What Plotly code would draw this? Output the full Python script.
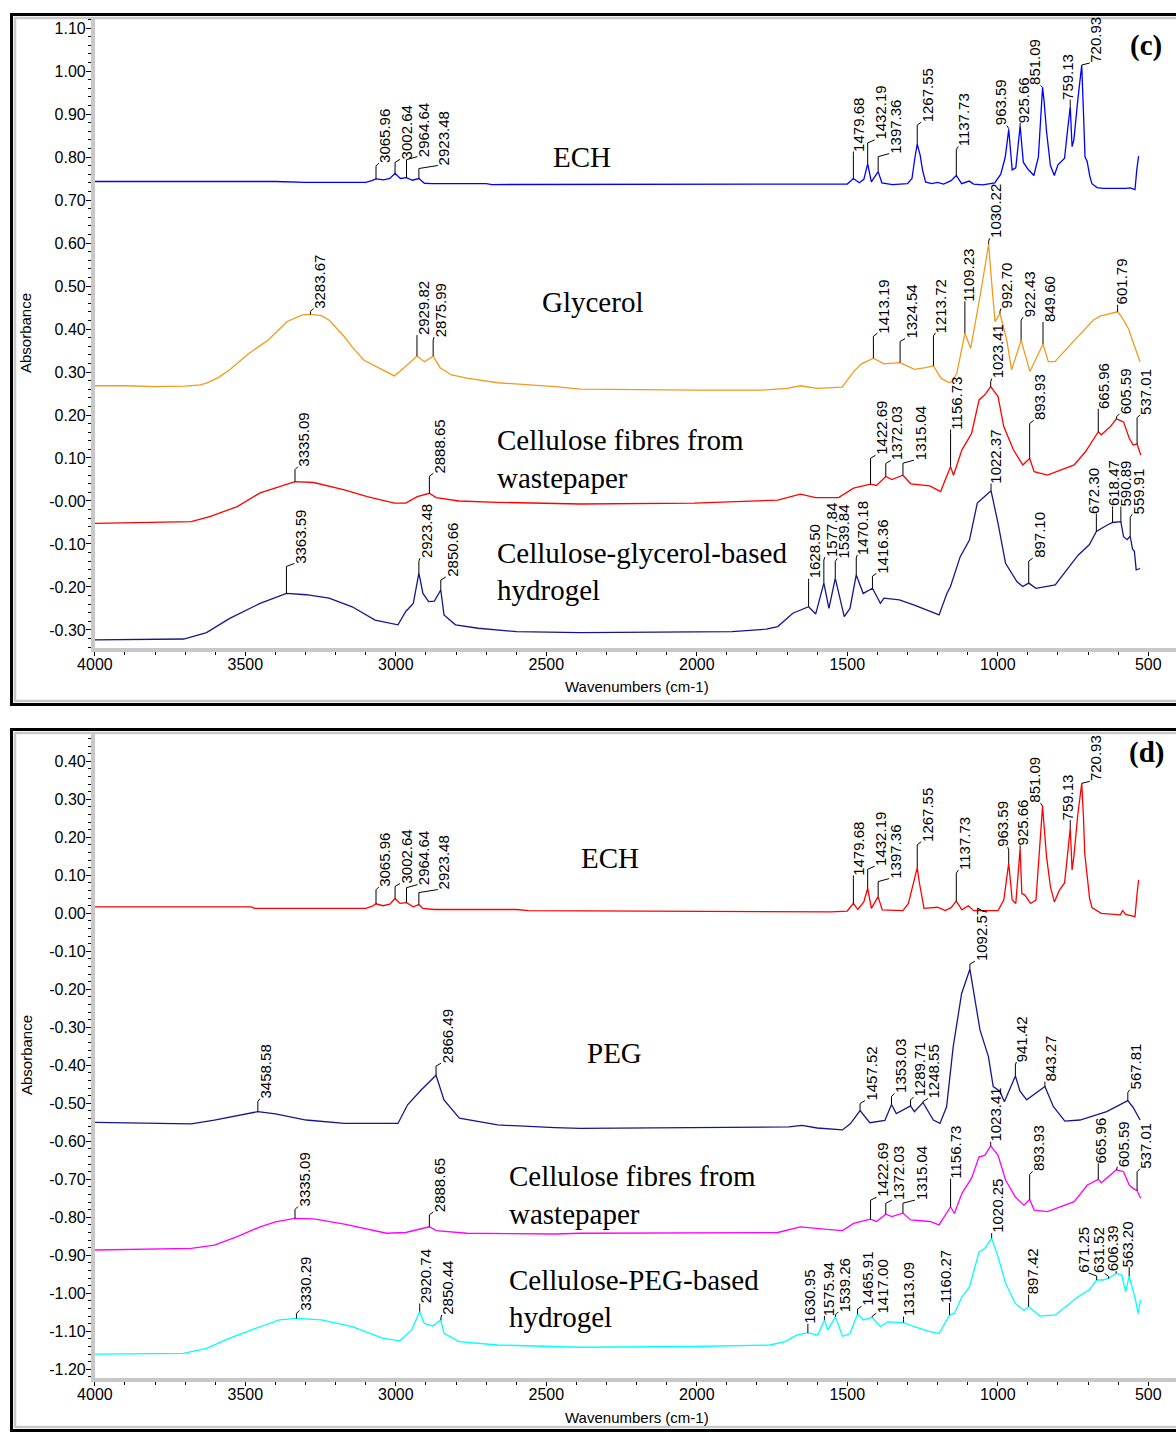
import numpy as np
import plotly.graph_objects as go

W, H = 1176, 1433

# ======================= DATA : panel (c) =======================
ECH_C_WN = [4000, 3800, 3600, 3400, 3300, 3200, 3100, 3080, 3065.96, 3040, 3020, 3002.64, 2985, 2964.64,
            2945, 2923.48, 2905, 2880, 2700, 2680, 2300, 1900, 1560, 1500, 1479.68, 1460, 1445, 1432.19,
            1420, 1397.36, 1385, 1350, 1300, 1285, 1275, 1267.55, 1258, 1250, 1240, 1220, 1200, 1180,
            1155, 1137.73, 1120, 1095, 1080, 1050, 1010, 990, 975, 963.59, 952, 940, 925.66, 915, 900,
            880, 865, 851.09, 846, 838, 825, 812, 800, 778, 770, 759.13, 753, 747, 734, 720.93, 715, 710,
            703, 694, 687, 670, 650, 600, 575, 560, 549, 544, 538, 532]
ECH_C_ABS = [0.743, 0.743, 0.743, 0.743, 0.741, 0.741, 0.741, 0.745, 0.749, 0.747, 0.750, 0.762, 0.750, 0.752,
             0.746, 0.750, 0.739, 0.738, 0.738, 0.736, 0.736, 0.736, 0.736, 0.737, 0.750, 0.740, 0.748, 0.784,
             0.742, 0.766, 0.740, 0.736, 0.738, 0.750, 0.800, 0.830, 0.805, 0.770, 0.742, 0.738, 0.741, 0.737,
             0.745, 0.757, 0.738, 0.744, 0.737, 0.735, 0.740, 0.760, 0.800, 0.864, 0.770, 0.775, 0.872, 0.788, 0.772,
             0.757, 0.800, 0.962, 0.930, 0.860, 0.780, 0.757, 0.782, 0.797, 0.850, 0.917, 0.824, 0.840, 0.933, 1.014, 0.900, 0.800,
             0.790, 0.755, 0.738, 0.729, 0.727, 0.726, 0.727, 0.728, 0.725, 0.724, 0.770, 0.802]

GLY_WN = [4000, 3900, 3800, 3700, 3650, 3629, 3590, 3552, 3489, 3425, 3362, 3311, 3283.67, 3247, 3222, 3196, 3171,
          3146, 3107, 3044, 3005, 2980, 2929.82, 2905, 2875.99, 2853, 2815, 2764, 2662, 2471, 2388, 2000, 1782,
          1700, 1656, 1600, 1517, 1479, 1453, 1413.19, 1378, 1324.54, 1277, 1240, 1213.72, 1188, 1163, 1153,
          1136, 1109.23, 1090, 1059, 1030.22, 1020, 1009, 992.70, 970, 954, 922.43, 893, 849.60, 832, 810,
          750, 700, 682, 660, 630, 601.79, 590, 577, 565, 549, 535, 527]
GLY_ABS = [0.268, 0.268, 0.266, 0.267, 0.270, 0.274, 0.287, 0.305, 0.343, 0.374, 0.417, 0.433, 0.434, 0.431, 0.421, 0.400, 0.382,
           0.359, 0.328, 0.305, 0.291, 0.305, 0.337, 0.324, 0.337, 0.310, 0.293, 0.286, 0.275, 0.266, 0.260, 0.258, 0.258,
           0.262, 0.268, 0.262, 0.265, 0.301, 0.319, 0.332, 0.319, 0.322, 0.306, 0.310, 0.314, 0.285, 0.276, 0.277,
           0.297, 0.390, 0.355, 0.475, 0.597, 0.506, 0.417, 0.436, 0.374, 0.305, 0.374, 0.301, 0.365, 0.324, 0.324,
           0.370, 0.408, 0.421, 0.430, 0.435, 0.440, 0.430, 0.413, 0.400, 0.367, 0.340, 0.324]

CELL_C_WN = [4000, 3800, 3680, 3616, 3527, 3451, 3374, 3335.09, 3273, 3171, 3095, 3005, 2967, 2929, 2888.65,
             2866, 2790, 2662, 2388, 2009, 1731, 1656, 1605, 1529, 1479, 1422.69, 1403, 1372.03, 1352, 1315.04,
             1289, 1226, 1201, 1190, 1156.73, 1147, 1119, 1087, 1062, 1043, 1023.41, 999, 980, 948, 917, 893.93,
             879, 835, 746, 708, 665.96, 656, 626, 605.59, 582, 563, 550, 537.01, 525]
CELL_C_ABS = [-0.052, -0.050, -0.048, -0.036, -0.013, 0.019, 0.037, 0.045, 0.043, 0.026, 0.010, -0.005, -0.005, 0.010, 0.018,
              0.008, 0.000, -0.003, -0.007, -0.005, 0.002, 0.016, 0.008, 0.008, 0.030, 0.039, 0.036, 0.057, 0.050, 0.060,
              0.040, 0.035, 0.026, 0.022, 0.080, 0.060, 0.119, 0.157, 0.235, 0.247, 0.266, 0.243, 0.173, 0.119, 0.084, 0.099,
              0.068, 0.060, 0.084, 0.115, 0.161, 0.154, 0.173, 0.191, 0.184, 0.146, 0.130, 0.133, 0.107]

HYD_C_WN = [4000, 3800, 3705, 3629, 3552, 3451, 3363.59, 3298, 3222, 3145, 3069, 2993, 2967, 2942, 2923.48,
            2910, 2891, 2872, 2850.66, 2840, 2802, 2726, 2599, 2388, 1883, 1769, 1731, 1681, 1628.50, 1605,
            1577.84, 1561, 1539.84, 1510, 1491, 1470.18, 1447, 1416.36, 1390, 1378, 1327, 1277, 1226, 1195,
            1169, 1157, 1125, 1094, 1068, 1022.37, 999, 974, 936, 917, 897.10, 873, 809, 733, 696, 672.30, 639,
            618.47, 590.89, 582, 570, 559.91, 552, 546, 540, 527]
HYD_C_ABS = [-0.323, -0.322, -0.321, -0.306, -0.273, -0.238, -0.215, -0.218, -0.226, -0.246, -0.277, -0.288, -0.257, -0.238, -0.168,
             -0.215, -0.234, -0.233, -0.207, -0.265, -0.288, -0.296, -0.304, -0.306, -0.304, -0.298, -0.292, -0.261, -0.246, -0.263,
             -0.191, -0.250, -0.180, -0.269, -0.250, -0.172, -0.215, -0.203, -0.238, -0.226, -0.230, -0.242, -0.257, -0.265,
             -0.215, -0.199, -0.130, -0.091, -0.005, 0.024, -0.052, -0.145, -0.188, -0.199, -0.191, -0.203, -0.195, -0.126, -0.102, -0.071, -0.057,
             -0.050, -0.048, -0.083, -0.090, -0.082, -0.112, -0.117, -0.160, -0.157]

# ======================= DATA : panel (d) =======================
ECH_D_WN = [4000, 3480, 3470, 3100, 3080, 3065.96, 3043, 3020, 3002.64, 2986, 2964.64, 2942, 2923.48, 2910, 2872,
            2599, 2560, 1554, 1500, 1479.68, 1465, 1445, 1432.19, 1420, 1397.36, 1384, 1315, 1297, 1280, 1267.55,
            1261, 1245, 1200, 1175, 1155, 1137.73, 1119, 1098, 1080, 999, 980, 963.59, 952, 940, 925.66, 920, 910,
            891, 873, 862, 851.09, 846, 838, 825, 812, 795, 778, 770, 759.13, 753, 747, 734, 720.93, 715, 711, 703,
            695, 687, 656, 593, 585, 575, 544, 538, 532]
ECH_D_ABS = [0.017, 0.017, 0.013, 0.013, 0.018, 0.025, 0.020, 0.024, 0.039, 0.026, 0.028, 0.017, 0.023, 0.013, 0.010,
             0.010, 0.007, 0.004, 0.006, 0.026, 0.010, 0.030, 0.066, 0.013, 0.044, 0.009, 0.007, 0.026, 0.080, 0.120,
             0.083, 0.013, 0.016, 0.007, 0.015, 0.032, 0.009, 0.020, 0.007, 0.007, 0.035, 0.132, 0.035, 0.026, 0.171, 0.052, 0.048,
             0.026, 0.035, 0.150, 0.282, 0.230, 0.150, 0.070, 0.030, 0.061, 0.080, 0.140, 0.224, 0.114, 0.150, 0.260, 0.342, 0.250, 0.158, 0.100,
             0.040, 0.015, 0.000, -0.004, 0.007, -0.003, -0.009, 0.044, 0.088]

PEG_WN = [4000, 3680, 3603, 3540, 3458.58, 3400, 3298, 3171, 2993, 2961, 2916, 2866.49, 2840, 2789, 2662, 2471,
          2388, 1694, 1650, 1600, 1516, 1490, 1457.52, 1425, 1375, 1353.03, 1337, 1289.71, 1277, 1248.55, 1214,
          1192, 1170, 1148, 1120, 1092.57, 1081, 1059, 1031, 1015, 993, 978, 941.42, 926, 904, 882, 843.27, 815,
          777, 727, 638, 567.81, 550, 527]
PEG_ABS = [-0.550, -0.554, -0.544, -0.535, -0.522, -0.528, -0.544, -0.553, -0.553, -0.504, -0.465, -0.426, -0.491, -0.539, -0.557, -0.564,
           -0.566, -0.562, -0.558, -0.565, -0.570, -0.554, -0.519, -0.551, -0.545, -0.503, -0.527, -0.507, -0.522, -0.498, -0.544,
           -0.553, -0.509, -0.351, -0.211, -0.147, -0.202, -0.307, -0.377, -0.456, -0.468, -0.496, -0.428, -0.468, -0.491, -0.478, -0.456, -0.509,
           -0.547, -0.544, -0.522, -0.493, -0.511, -0.544]

CELL_D_WN = [4000, 3800, 3680, 3603, 3527, 3451, 3400, 3335.09, 3273, 3171, 3031, 2967, 2888.65, 2866, 2764, 2471,
             2388, 1731, 1656, 1567, 1516, 1479, 1422.69, 1403, 1372.03, 1352, 1315.04, 1289, 1226, 1195, 1156.73,
             1144, 1119, 1087, 1062, 1043, 1023.41, 999, 974, 942, 913, 893.93, 879, 835, 746, 702, 665.96, 656, 626,
             605.59, 582, 563, 550, 537.01, 525]
CELL_D_ABS = [-0.886, -0.884, -0.882, -0.873, -0.851, -0.825, -0.812, -0.803, -0.804, -0.818, -0.842, -0.840, -0.825, -0.835, -0.842, -0.844,
              -0.842, -0.840, -0.825, -0.832, -0.835, -0.816, -0.805, -0.811, -0.792, -0.798, -0.789, -0.807, -0.811, -0.820, -0.772,
              -0.790, -0.737, -0.697, -0.641, -0.637, -0.612, -0.637, -0.702, -0.746, -0.768, -0.753, -0.781, -0.785, -0.759, -0.715, -0.700, -0.709, -0.689,
              -0.675, -0.680, -0.715, -0.724, -0.730, -0.750]

HYD_D_WN = [4000, 3800, 3705, 3629, 3552, 3451, 3387, 3330.29, 3247, 3145, 3044, 2987, 2948, 2920.74, 2906, 2878,
            2850.44, 2840, 2790, 2662, 2471, 2388, 2009, 1757, 1706, 1669, 1630.95, 1598, 1575.94, 1565, 1539.26,
            1516, 1491, 1465.91, 1447, 1417.00, 1390, 1365, 1313.09, 1277, 1226, 1195, 1160.27, 1144, 1119, 1094,
            1062, 1043, 1020.25, 999, 974, 942, 913, 897.42, 860, 809, 733, 696, 671.25, 651, 631.52, 606.39, 588,
            575, 563.20, 550, 542, 534, 525]
HYD_D_ABS = [-1.160, -1.159, -1.158, -1.145, -1.118, -1.088, -1.070, -1.066, -1.070, -1.088, -1.118, -1.125, -1.097, -1.048, -1.079, -1.086,
             -1.070, -1.105, -1.127, -1.136, -1.139, -1.142, -1.140, -1.136, -1.127, -1.110, -1.104, -1.110, -1.070, -1.097, -1.062,
             -1.113, -1.106, -1.055, -1.070, -1.063, -1.088, -1.075, -1.077, -1.088, -1.101, -1.106, -1.057, -1.053, -1.009, -0.983,
             -0.891, -0.882, -0.855, -0.904, -0.974, -1.026, -1.045, -1.035, -1.060, -1.057, -1.009, -0.991, -0.965, -0.965, -0.961, -0.947, -0.952,
             -0.996, -0.955, -0.991, -1.018, -1.053, -1.018]

# ======================= peak labels (text) =======================
ECH_PEAKS = ["3065.96", "3002.64", "2964.64", "2923.48", "1479.68", "1432.19", "1397.36", "1267.55",
             "1137.73", "963.59", "925.66", "851.09", "759.13", "720.93"]
GLY_PEAKS = ["3283.67", "2929.82", "2875.99", "1413.19", "1324.54", "1213.72", "1109.23", "1030.22",
             "992.70", "922.43", "849.60", "601.79"]
CELL_PEAKS = ["3335.09", "2888.65", "1422.69", "1372.03", "1315.04", "1156.73", "1023.41", "893.93",
              "665.96", "605.59", "537.01"]
HYD_C_PEAKS = ["3363.59", "2923.48", "2850.66", "1628.50", "1577.84", "1539.84", "1470.18", "1416.36",
               "1022.37", "897.10", "672.30", "618.47", "590.89", "559.91"]
PEG_PEAKS = ["3458.58", "2866.49", "1457.52", "1353.03", "1289.71", "1248.55", "1092.57", "941.42",
             "843.27", "567.81"]
HYD_D_PEAKS = ["3330.29", "2920.74", "2850.44", "1630.95", "1575.94", "1539.26", "1465.91", "1417.00",
               "1313.09", "1160.27", "1020.25", "897.42", "671.25", "631.52", "606.39", "563.20"]

# axis ticks
X_TICKS = [4000, 3500, 3000, 2500, 2000, 1500, 1000, 500]
X_TICKTEXT = ["4000", "3500", "3000", "2500", "2000", "1500", "1000", "500"]
Y_TICKS_C = [1.10, 1.00, 0.90, 0.80, 0.70, 0.60, 0.50, 0.40, 0.30, 0.20, 0.10, 0.00, -0.10, -0.20, -0.30]
Y_TICKTEXT_C = ["1.10", "1.00", "0.90", "0.80", "0.70", "0.60", "0.50", "0.40", "0.30", "0.20", "0.10",
                "-0.00", "-0.10", "-0.20", "-0.30"]
Y_TICKS_D = [0.40, 0.30, 0.20, 0.10, 0.00, -0.10, -0.20, -0.30, -0.40, -0.50, -0.60, -0.70, -0.80, -0.90,
             -1.00, -1.10, -1.20]
Y_TICKTEXT_D = ["0.40", "0.30", "0.20", "0.10", "0.00", "-0.10", "-0.20", "-0.30", "-0.40", "-0.50", "-0.60",
                "-0.70", "-0.80", "-0.90", "-1.00", "-1.10", "-1.20"]

# ======================= layout geometry & label placement (pixels) =======================
PLOT_LEFT_PX = 94.9
X_RANGE = [4000, 407.7]
C_TOP_PX, C_BOT_PX = 18, 648
D_TOP_PX, D_BOT_PX = 733, 1378
Y_RANGE_C = [-0.3419, 1.1233]
Y_RANGE_D = [-1.2229, 0.4745]

# (stem length px, horizontal label offset px) per peak label
ECH_C_LBL = [(16, 9), (14, 11), (21, 17), (13, 25), (27, 5), (24, 13), (18, 17), (22, 10), (29, 8), (4, -8),
             (3, 3), (2, -8), (7, -3), (2, 14)]
GLY_LBL = [(6, 9), (21, 6), (19, 7), (25, 10), (24, 11), (33, 8), (32, 4), (6, 7), (5, 7), (23, 8), (22, 6), (7, 4)]
CELL_C_LBL = [(15, 9), (20, 10), (29, 11), (16, 11), (15, 17), (37, 6), (8, 7), (38, 10), (23, 5), (5, 9), (29, 9)]
HYD_C_LBL = [(30, 14), (15, 7), (13, 11), (28, 6), (26, 7), (20, 8), (20, 7), (15, 10), (7, 5), (25, 10), (18, -3),
             (16, 1), (15, 5), (22, 8)]
ECH_D_LBL = [(17, 9), (15, 11), (18, 17), (15, 25), (28, 5), (22, 13), (18, 17), (26, 10), (31, 8), (16, -7),
             (3, 2), (3, -8), (8, -3), (2, 14)]
PEG_LBL = [(13, 8), (12, 11), (10, 11), (11, 9), (9, 9), (4, 11), (8, 11), (14, 7), (5, 6), (11, 8)]
CELL_D_LBL = [(12, 9), (15, 10), (22, 12), (14, 12), (13, 18), (28, 5), (4, 5), (28, 9), (16, 2), (3, 7), (22, 9)]
HYD_D_LBL = [(8, 9), (8, 6), (5, 7), (9, 2), (4, 4), (5, 9), (8, 10), (4, 10), (6, 5), (12, -4), (5, 6), (12, 4),
             (7, -14), (5, -10), (2, -4), (9, -2)]

SANS = "Liberation Sans, Arial, sans-serif"
SERIF = "Liberation Serif, Times New Roman, serif"
NAVY = "#16168C"


def px2fx(px):
    return px / W


def py2fy(py):
    return 1 - py / H


fig = go.Figure()
shapes = []
annotations = []


def add_spectrum(wn, ab, color, xa, ya, peaks, lbl):
    fig.add_trace(go.Scatter(x=wn, y=ab, mode="lines", line=dict(color=color, width=1.3),
                             xaxis=xa, yaxis=ya, showlegend=False, hoverinfo="skip"))
    xs = np.array(wn, dtype=float)[::-1]
    ys = np.array(ab, dtype=float)[::-1]
    xref = "x" if xa == "x" else "x2"
    yref = "y" if ya == "y" else "y2"
    for txt, (stem, dx) in zip(peaks, lbl):
        w = float(txt)
        yv = float(np.interp(w, xs, ys))
        if dx > 6:
            ex = dx - 6
        elif dx < -6:
            ex = dx + 6
        else:
            ex = 0
        top = max(stem - 3, 0)
        path = f"M0,0 L0,{top} L{ex},{stem}"
        shapes.append(dict(type="path", xref=xref, yref=yref, xsizemode="pixel", ysizemode="pixel",
                           xanchor=w, yanchor=yv, path=path, line=dict(color="black", width=1)))
        annotations.append(dict(x=w, y=yv, xref=xref, yref=yref, text=txt, showarrow=False,
                                textangle=-90, xanchor="center", yanchor="bottom",
                                xshift=dx, yshift=stem - 1, borderpad=0,
                                font=dict(family=SANS, size=15, color="black")))


add_spectrum(ECH_C_WN, ECH_C_ABS, "#0000FF", "x", "y", ECH_PEAKS, ECH_C_LBL)
add_spectrum(GLY_WN, GLY_ABS, "#F39A1E", "x", "y", GLY_PEAKS, GLY_LBL)
add_spectrum(CELL_C_WN, CELL_C_ABS, "#FF0000", "x", "y", CELL_PEAKS, CELL_C_LBL)
add_spectrum(HYD_C_WN, HYD_C_ABS, NAVY, "x", "y", HYD_C_PEAKS, HYD_C_LBL)

add_spectrum(ECH_D_WN, ECH_D_ABS, "#FF0000", "x2", "y2", ECH_PEAKS, ECH_D_LBL)
add_spectrum(PEG_WN, PEG_ABS, NAVY, "x2", "y2", PEG_PEAKS, PEG_LBL)
add_spectrum(CELL_D_WN, CELL_D_ABS, "#FF00FF", "x2", "y2", CELL_PEAKS, CELL_D_LBL)
add_spectrum(HYD_D_WN, HYD_D_ABS, "#00FFFF", "x2", "y2", HYD_D_PEAKS, HYD_D_LBL)

# series names (serif)
NAMES = [
    ("ECH", 582, 157, "center"), ("Glycerol", 592, 302, "center"),
    ("Cellulose fibres from", 495, 440, "left"), ("wastepaper", 495, 478, "left"),
    ("Cellulose-glycerol-based", 495, 553, "left"), ("hydrogel", 495, 590, "left"),
    ("ECH", 610, 858, "center"), ("PEG", 614, 1053, "center"),
    ("Cellulose fibres from", 507, 1176, "left"), ("wastepaper", 507, 1214, "left"),
    ("Cellulose-PEG-based", 507, 1280, "left"), ("hydrogel", 507, 1317, "left"),
]
for t, px, py, anc in NAMES:
    annotations.append(dict(x=px2fx(px), y=py2fy(py), xref="paper", yref="paper", text=t, showarrow=False,
                            xanchor=anc, yanchor="middle", font=dict(family=SERIF, size=29, color="black")))

for t, py in [("(c)", 45), ("(d)", 752)]:
    annotations.append(dict(x=px2fx(1146), y=py2fy(py), xref="paper", yref="paper", text="<b>" + t + "</b>",
                            showarrow=False, xanchor="center", yanchor="middle",
                            font=dict(family=SERIF, size=29, color="black")))

for py in [333, 1055]:
    annotations.append(dict(x=px2fx(26), y=py2fy(py), xref="paper", yref="paper", text="Absorbance",
                            showarrow=False, textangle=-90, xanchor="center", yanchor="middle",
                            font=dict(family=SANS, size=15, color="black")))
for py in [686, 1417]:
    annotations.append(dict(x=px2fx(637), y=py2fy(py), xref="paper", yref="paper", text="Wavenumbers (cm-1)",
                            showarrow=False, xanchor="center", yanchor="middle",
                            font=dict(family=SANS, size=15, color="black")))

# panel frames (double border: black outside, grey inside)
for top, bot in [(13, 706), (728, 1432)]:
    shapes.append(dict(type="rect", xref="paper", yref="paper", x0=px2fx(11.5), x1=px2fx(1200),
                       y0=py2fy(bot - 1.5), y1=py2fy(top + 1.5), line=dict(color="black", width=3),
                       fillcolor="rgba(0,0,0,0)", layer="below"))
    shapes.append(dict(type="rect", xref="paper", yref="paper", x0=px2fx(15), x1=px2fx(1196),
                       y0=py2fy(bot - 5), y1=py2fy(top + 5), line=dict(color="#C8C8C8", width=2.5),
                       fillcolor="rgba(0,0,0,0)", layer="below"))

tickfont = dict(family=SANS, size=16, color="black")
xcommon = dict(range=X_RANGE, domain=[px2fx(PLOT_LEFT_PX), 1.0], showgrid=False, zeroline=False,
               showline=True, linecolor="#C8C8C8", linewidth=4, ticks="outside", ticklen=4, tickwidth=1,
               tickcolor="black", tickmode="array", tickvals=X_TICKS, ticktext=X_TICKTEXT, tickfont=tickfont,
               automargin=False, ticklabelstandoff=-5,
               minor=dict(tickmode="linear", tick0=0, dtick=100, ticks="outside", ticklen=3, tickcolor="black",
                          tickwidth=1, showgrid=False))
ycommon = dict(showgrid=False, zeroline=False, showline=True, linecolor="#C8C8C8", linewidth=4,
               ticks="outside", ticklen=5, tickwidth=1, tickcolor="black", tickmode="array", tickfont=tickfont,
               automargin=False, ticklabelstandoff=-3,
               minor=dict(tickmode="linear", tick0=0, dtick=0.02, ticks="outside", ticklen=3, tickcolor="black",
                          tickwidth=1, showgrid=False))

fig.update_layout(
    width=W, height=H, autosize=False,
    margin=dict(l=0, r=0, t=0, b=0, pad=0, autoexpand=False),
    paper_bgcolor="white", plot_bgcolor="white",
    showlegend=False,
    xaxis=dict(anchor="y", **xcommon),
    yaxis=dict(anchor="x", range=Y_RANGE_C, domain=[py2fy(C_BOT_PX), py2fy(C_TOP_PX)],
               tickvals=Y_TICKS_C, ticktext=Y_TICKTEXT_C, **ycommon),
    xaxis2=dict(anchor="y2", **xcommon),
    yaxis2=dict(anchor="x2", range=Y_RANGE_D, domain=[py2fy(D_BOT_PX), py2fy(D_TOP_PX)],
                tickvals=Y_TICKS_D, ticktext=Y_TICKTEXT_D, **ycommon),
    shapes=shapes, annotations=annotations,
)

PAGE_FIX = ("document.documentElement.style.margin='0';document.documentElement.style.padding='0';"
            "document.documentElement.style.overflow='hidden';"
            "document.body.style.margin='0';document.body.style.padding='0';document.body.style.overflow='hidden';")

fig.write_html("out.html", post_script=PAGE_FIX,
               config={"responsive": False, "displayModeBar": False, "staticPlot": True})
